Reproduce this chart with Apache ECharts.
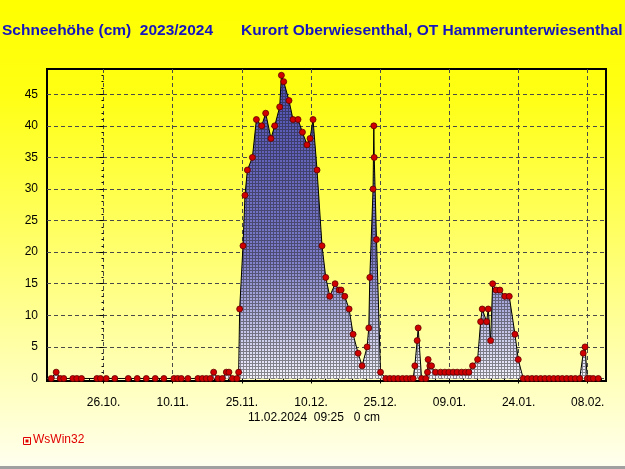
<!DOCTYPE html>
<html>
<head>
<meta charset="utf-8">
<script src="https://cdn.jsdelivr.net/npm/echarts@6/dist/echarts.min.js"></script>
<style>
html,body{margin:0;padding:0;background:#fff;}
#chart{width:625px;height:469px;}
</style>
</head>
<body>
<div id="chart"></div>
<script>
// x values: days since 26.10.2023 00:00
const dayOffsets = [-11.35,-10.27,-9.40,-8.62,-6.66,-5.80,-4.78,-1.45,-0.65,0.59,2.45,5.36,7.31,9.27,11.22,13.09,15.26,16.06,16.87,18.30,20.47,21.42,22.29,23.16,23.88,24.81,25.76,26.63,27.20,27.94,28.93,29.30,29.52,30.24,30.67,31.19,32.28,33.15,34.30,35.16,36.31,37.12,38.20,38.57,39.07,40.22,41.09,42.17,43.13,44.13,44.78,45.43,46.30,47.38,48.19,49.06,50.21,51.08,51.52,52.31,53.25,54.12,55.20,56.07,57.15,57.52,57.74,58.45,58.61,58.70,59.19,60.06,61.21,62.08,62.95,63.88,64.84,65.71,66.57,67.14,67.51,68.01,68.23,68.97,69.89,70.25,70.39,70.76,71.13,72.00,73.09,74.02,74.89,75.82,76.69,77.64,78.51,79.23,80.03,81.12,81.77,82.12,83.07,83.42,83.94,84.38,85.09,85.96,87.04,87.98,89.22,89.93,91.01,91.96,92.90,93.83,94.79,95.72,96.66,97.61,98.55,99.48,100.44,101.37,102.31,103.26,104.02,104.41,104.91,105.49,106.21,107.29,108.03];
const snowDepth = [0,1,0,0,0,0,0,0,0,0,0,0,0,0,0,0,0,0,0,0,0,0,0,0,1,0,0,1,1,0,0,1,11,21,29,33,35,41,40,42,38,40,43,48,47,44,41,41,39,37,38,41,33,21,16,13,15,14,14,13,11,7,4,2,5,8,16,30,40,35,22,1,0,0,0,0,0,0,0,0,2,6,8,0,0,1,3,2,2,1,1,1,1,1,1,1,1,1,2,3,9,11,9,11,6,15,14,14,13,13,7,3,0,0,0,0,0,0,0,0,0,0,0,0,0,0,4,5,0,0,0,0];
const majorTickDays = [0,15,30,45,60,75,90,105];
const minorTickDays = [-12,-9,-6,-3,0,3,6,9,12,15,18,21,24,27,30,33,36,39,42,45,48,51,54,57,60,63,66,69,72,75,78,81,84,87,90,93,96,99,102,105,108];
const yTicks = [0,5,10,15,20,25,30,35,40,45];
const yMinorTicks = [1,2,3,4,6,7,8,9,11,12,13,14,16,17,18,19,21,22,23,24,26,27,28,29,31,32,33,34,36,37,38,39,41,42,43,44,46,47,48];
const titleLeft = 'Schneehöhe (cm)  2023/2024';
const titleRight = 'Kurort Oberwiesenthal, OT Hammerunterwiesenthal';
const footerText = '11.02.2024  09:25   0 cm';
const brandText = 'WsWin32';
const baseDate = Date.UTC(2023, 9, 26);

const points = dayOffsets.map((d, i) => [d, snowDepth[i]]);

function fmtDay(v) {
  const d = new Date(baseDate + Math.round(v) * 86400000);
  const dd = String(d.getUTCDate()).padStart(2, '0');
  const mm = String(d.getUTCMonth() + 1).padStart(2, '0');
  return dd + '.' + mm + '.';
}

const pat = document.createElement('canvas');
pat.width = 3; pat.height = 3;
const pctx = pat.getContext('2d');
pctx.fillStyle = 'rgba(30,30,30,0.5)';
pctx.fillRect(0, 0, 1, 3);
pctx.fillRect(1, 0, 2, 1);

const chart = echarts.init(document.getElementById('chart'), null, {renderer: 'canvas'});
const font = 'Liberation Sans, Arial, sans-serif';

const option = {
  animation: false,
  backgroundColor: {
    type: 'linear', x: 0, y: 0, x2: 0, y2: 1,
    colorStops: [
      {offset: 0, color: '#ffff00'},
      {offset: 0.2, color: '#ffff14'},
      {offset: 0.5, color: '#ffff64'},
      {offset: 0.8, color: '#ffffb8'},
      {offset: 1, color: '#fffff0'}
    ]
  },
  grid: {left: 47, right: 19, top: 69, bottom: 88, show: true, borderColor: '#000', borderWidth: 2, backgroundColor: 'transparent'},
  xAxis: [{
    type: 'value', min: -12.26, max: 108.96,
    axisLine: {show: false},
    axisTick: {show: true, customValues: majorTickDays, length: 5, inside: false, lineStyle: {color: '#000', width: 1}},
    axisLabel: {customValues: majorTickDays, formatter: fmtDay, color: '#000', fontFamily: font, fontSize: 12, margin: 16},
    splitLine: {show: true, lineStyle: {color: '#4a4a4a', type: [4, 3], width: 1}}
  }, {
    type: 'value', min: -12.26, max: 108.96, position: 'bottom',
    axisLine: {show: false},
    axisTick: {show: true, customValues: minorTickDays, length: 3, lineStyle: {color: '#000', width: 1}},
    axisLabel: {show: false},
    splitLine: {show: false}
  }],
  yAxis: [{
    type: 'value', min: -0.4, max: 49,
    axisLine: {show: false},
    axisTick: {show: true, customValues: yTicks, length: 4, lineStyle: {color: '#000'}},
    axisLabel: {customValues: yTicks, color: '#000', fontFamily: font, fontSize: 12, margin: 9},
    splitLine: {show: true, lineStyle: {color: '#4a4a4a', type: [4, 3], width: 1}}
  }, {
    type: 'value', min: -0.4, max: 49, position: 'left',
    axisLine: {show: false},
    axisTick: {show: true, customValues: yMinorTicks, length: 2, lineStyle: {color: '#000'}},
    axisLabel: {show: false},
    splitLine: {show: false}
  }],
  series: [{
    type: 'line', data: points, z: 2, symbol: 'none',
    lineStyle: {width: 0},
    areaStyle: {
      opacity: 1,
      color: {type: 'linear', x: 0, y: 69, x2: 0, y2: 381, global: true,
        colorStops: [{offset: 0, color: '#4c4cb0'}, {offset: 0.6, color: '#7c7cca'}, {offset: 1, color: '#f6f6ff'}]}
    }
  }, {
    type: 'line', data: points, z: 3, symbol: 'none',
    lineStyle: {width: 0},
    areaStyle: {opacity: 1, color: {image: pat, repeat: 'repeat'}}
  }, {
    type: 'line', data: points, z: 4,
    symbol: 'circle', symbolSize: 6,
    lineStyle: {color: '#000', width: 1},
    itemStyle: {color: '#d00000', borderColor: '#600000', borderWidth: 0.8}
  }],
  graphic: [
    {type: 'text', left: 2, top: 23, style: {text: titleLeft, fill: '#1414c0', font: 'bold 15.5px ' + font}},
    {type: 'text', left: 241, top: 23, style: {text: titleRight, fill: '#1414c0', font: 'bold 15.5px ' + font}},
    {type: 'text', left: 248, top: 412, style: {text: footerText, fill: '#000', font: '12px ' + font}},
    {type: 'rect', shape: {x: 23.5, y: 437.5, width: 7, height: 7}, style: {fill: 'none', stroke: '#e00000', lineWidth: 1}},
    {type: 'rect', shape: {x: 25.5, y: 439.5, width: 3, height: 3}, style: {fill: '#e00000'}},
    {type: 'text', left: 33, top: 434, style: {text: brandText, fill: '#e00000', font: '12px ' + font}},
    {type: 'rect', shape: {x: 0, y: 466, width: 625, height: 3}, style: {fill: '#a0a0a0'}}
  ]
};
chart.setOption(option);
</script>
</body>
</html>
